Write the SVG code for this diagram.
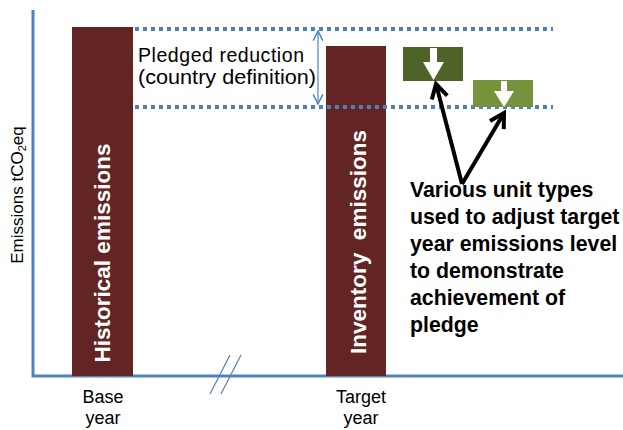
<svg xmlns="http://www.w3.org/2000/svg" width="623" height="430" viewBox="0 0 623 430">
<style>
text{font-family:"Liberation Sans",Arial,sans-serif;}
.lbl{font-size:17px;fill:#000;}
.ax{font-size:18px;fill:#000;}
.pl{font-size:19.5px;fill:#000;}
.bar{fill:#632523;}
.bartxt{font-size:22.5px;font-weight:bold;fill:#fff;}
.dot{stroke:#4F81BD;stroke-width:4;stroke-dasharray:4 4;fill:none;}
.axis{stroke:#4F81BD;stroke-width:3;fill:none;}
.big{font-size:21.3px;font-weight:bold;fill:#000;}
</style>
<defs>
<marker id="open" viewBox="0 0 10 10" refX="9" refY="5" markerWidth="12" markerHeight="12" markerUnits="userSpaceOnUse" orient="auto-start-reverse"><path d="M1,1 L9,5 L1,9" fill="none" stroke="#4F81BD" stroke-width="1.2"/></marker>
<marker id="blk" viewBox="0 0 10 10" refX="8" refY="5" markerWidth="5" markerHeight="5" orient="auto"><path d="M1,1 L8,5 L1,9" fill="none" stroke="#000" stroke-width="2"/></marker>
</defs>
<g id="axes">
<path class="axis" d="M33,10 V376 H623"/>
<path d="M210,394 L230,355 M221,394 L241,355" stroke="#4F81BD" stroke-width="1.2"/>
<text class="lbl" transform="translate(23,195) rotate(-90)" text-anchor="middle">Emissions tCO<tspan font-size="11" dy="3">2</tspan><tspan dy="-3">eq</tspan></text>
</g>
<g id="base-bar">
<rect class="bar" x="72" y="27" width="61" height="349"/>
<text class="bartxt" transform="translate(110,253) rotate(-90)" text-anchor="middle">Historical emissions</text>
<text class="ax" x="103" y="403" text-anchor="middle">Base</text>
<text class="ax" x="103" y="424" text-anchor="middle">year</text>
</g>
<g id="target-bar">
<rect class="bar" x="326" y="46" width="60" height="330"/>
<text class="bartxt" transform="translate(366,242) rotate(-90)" text-anchor="middle" xml:space="preserve">Inventory  emissions</text>
<text class="ax" x="361" y="403" text-anchor="middle">Target</text>
<text class="ax" x="361" y="424" text-anchor="middle">year</text>
</g>
<g id="pledge">
<line class="dot" x1="135" y1="29" x2="553" y2="29"/>
<line class="dot" x1="135" y1="107" x2="553" y2="107"/>
<text class="pl" x="138" y="62" textLength="166" lengthAdjust="spacing">Pledged reduction</text>
<text class="pl" x="138" y="84" textLength="178" lengthAdjust="spacingAndGlyphs">(country definition)</text>
</g>
<g id="unit1">
<rect x="403" y="47" width="60" height="34" fill="#4F6228"/>
<path d="M430,48 H437 V62 H444 L433.5,80 L423,62 H430 Z" fill="#fff"/>
</g>
<g id="unit2">
<rect x="473" y="80" width="60" height="27" fill="#77933C"/>
<path d="M501,81 H507 V91 H514 L504,107 L494,91 H501 Z" fill="#fff"/>
</g>
<g id="note">
<text class="big" x="410" y="197">Various unit types</text>
<text class="big" x="410" y="224">used to adjust target</text>
<text class="big" x="410" y="251">year emissions level</text>
<text class="big" x="410" y="278">to demonstrate</text>
<text class="big" x="410" y="305">achievement of</text>
<text class="big" x="410" y="332">pledge</text>
</g>
<g id="connectors">
<line x1="318" y1="31" x2="318" y2="104" stroke="#4F81BD" stroke-width="1.2" marker-start="url(#open)" marker-end="url(#open)"/>
<path d="M462,184 L436,84" stroke="#000" stroke-width="4" fill="none" marker-end="url(#blk)"/>
<path d="M462,184 L504,113" stroke="#000" stroke-width="4" fill="none" marker-end="url(#blk)"/>
</g>
</svg>
